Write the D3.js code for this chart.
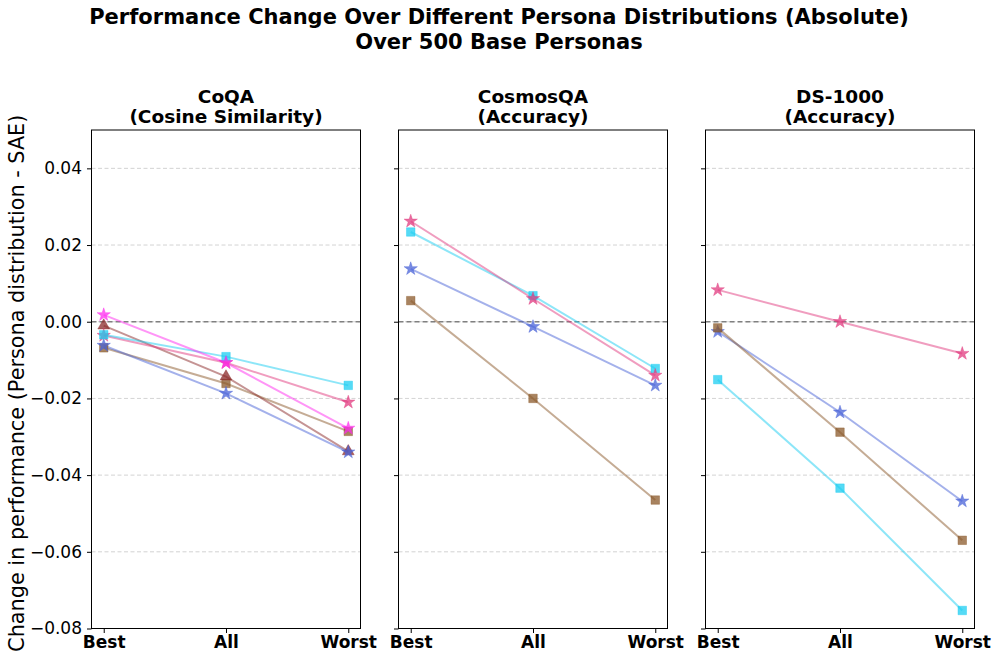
<!DOCTYPE html>
<html>
<head>
<meta charset="utf-8">
<script src="https://cdn.jsdelivr.net/npm/d3@7"></script>
<style>
  body { margin: 0; background: #fff; }
  text { font-family: "DejaVu Sans", sans-serif; }
</style>
</head>
<body>
<svg id="chart" width="997" height="661"></svg>
<script>
// categories and tick labels
const categories = ['Best', 'All', 'Worst']
const yTicks = [-0.08, -0.06, -0.04, -0.02, 0.00, 0.02, 0.04]

// panels
const panelNames = ['CoQA', 'CosmosQA', 'DS-1000']
const panelMetrics = ['(Cosine Similarity)', '(Accuracy)', '(Accuracy)']

// series values per panel [Best, All, Worst]
const coqaSeries = [
  { key: 'brown', shape: 'square', values: [-0.0068, -0.0161, -0.0286] },
  { key: 'darkred', shape: 'triangle', values: [-0.0010, -0.0143, -0.0338] },
  { key: 'blue', shape: 'star', values: [-0.0062, -0.0187, -0.0340] },
  { key: 'pink', shape: 'star', values: [-0.0036, -0.0107, -0.0210] },
  { key: 'cyan', shape: 'square', values: [-0.0034, -0.0091, -0.0166] },
  { key: 'magenta', shape: 'star', values: [0.0018, -0.0107, -0.0278] }
]
const cosmosSeries = [
  { key: 'brown', shape: 'square', values: [0.0055, -0.0200, -0.0465] },
  { key: 'blue', shape: 'star', values: [0.0138, -0.0013, -0.0166] },
  { key: 'cyan', shape: 'square', values: [0.0234, 0.0068, -0.0122] },
  { key: 'pink', shape: 'star', values: [0.0262, 0.0060, -0.0140] }
]
const dsSeries = [
  { key: 'cyan', shape: 'square', values: [-0.0151, -0.0434, -0.0753] },
  { key: 'blue', shape: 'star', values: [-0.0026, -0.0236, -0.0468] },
  { key: 'brown', shape: 'square', values: [-0.0016, -0.0288, -0.0570] },
  { key: 'pink', shape: 'star', values: [0.0083, 0.0000, -0.0083] }
]
const panelSeries = [coqaSeries, cosmosSeries, dsSeries]

const colors = {
  brown: '#8b5a2b',
  darkred: '#8b2a2a',
  blue: '#4a63d8',
  pink: '#e23c80',
  cyan: '#1ccdf2',
  magenta: '#ff2cf0'
}

const width = 997, height = 661
const svg = d3.select('#chart')

svg.append('rect').attr('width', width).attr('height', height).attr('fill', '#fff')

// main title
svg.append('text')
  .attr('x', 499).attr('y', 24)
  .attr('text-anchor', 'middle')
  .attr('font-size', 21).attr('font-weight', 'bold')
  .text('Performance Change Over Different Persona Distributions (Absolute)')
svg.append('text')
  .attr('x', 499).attr('y', 49)
  .attr('text-anchor', 'middle')
  .attr('font-size', 21).attr('font-weight', 'bold')
  .text('Over 500 Base Personas')

// layout
const panelLefts = [91.5, 398.5, 705.5]
const panelWidth = 269
const plotTop = 130, plotBottom = 628.5

const y = d3.scaleLinear().domain([-0.08, 0.05]).range([plotBottom, plotTop])

// y label
svg.append('text')
  .attr('transform', `translate(24,${(plotTop + plotBottom) / 2 + 4}) rotate(-90)`)
  .attr('text-anchor', 'middle')
  .attr('font-size', 20.8)
  .text('Change in performance (Persona distribution - SAE)')

const symbolFor = shape => {
  if (shape === 'square') return d3.symbol().type(d3.symbolSquare).size(72)()
  if (shape === 'triangle') return d3.symbol().type(d3.symbolTriangle).size(60)()
  return d3.symbol().type(d3.symbolStar).size(55)()
}

panelSeries.forEach((series, i) => {
  const x0 = panelLefts[i]
  const g = svg.append('g').attr('transform', `translate(${x0},0)`)

  const x = d3.scaleLinear().domain([-0.1, 2.1]).range([0, panelWidth])

  // grid
  g.selectAll('.grid')
    .data(yTicks)
    .join('line')
    .attr('x1', 0).attr('x2', panelWidth)
    .attr('y1', d => y(d)).attr('y2', d => y(d))
    .attr('stroke', '#c8c8c8')
    .attr('stroke-width', 0.8)
    .attr('stroke-dasharray', '4,2.5')

  // zero line
  g.append('line')
    .attr('x1', 0).attr('x2', panelWidth)
    .attr('y1', y(0)).attr('y2', y(0))
    .attr('stroke', '#808080')
    .attr('stroke-width', 1.3)
    .attr('stroke-dasharray', '5,3')

  // lines
  const line = d3.line()
    .x((d, j) => x(j))
    .y(d => y(d))

  series.forEach(s => {
    g.append('path')
      .datum(s.values)
      .attr('fill', 'none')
      .attr('stroke', colors[s.key])
      .attr('stroke-opacity', 0.5)
      .attr('stroke-width', 2)
      .attr('d', line)
  })

  series.forEach(s => {
    g.selectAll(null)
      .data(s.values)
      .join('path')
      .attr('transform', (d, j) => `translate(${x(j)},${y(d)})`)
      .attr('d', symbolFor(s.shape))
      .attr('fill', colors[s.key])
      .attr('fill-opacity', 0.75)
      .attr('stroke', colors[s.key])
      .attr('stroke-opacity', 0.4)
      .attr('stroke-width', 1)
  })

  // axes
  const yAxis = d3.axisLeft(y).tickValues(yTicks).tickSize(4.5).tickPadding(5)
    .tickFormat(d => d3.format('.2f')(d).replace('-', '\u2212'))
  const ya = g.append('g').call(yAxis)
  ya.select('.domain').remove()
  ya.selectAll('text').attr('font-size', 17).attr('font-family', '"DejaVu Sans", sans-serif').attr('fill', '#000')
  if (i > 0) ya.selectAll('text').remove()

  const xAxis = d3.axisBottom(x).tickValues([0, 1, 2]).tickSize(4.5).tickPadding(3)
    .tickFormat(d => categories[d])
  const xa = g.append('g').attr('transform', `translate(0,${plotBottom})`).call(xAxis)
  xa.select('.domain').remove()
  xa.selectAll('text').attr('font-size', 17).attr('font-weight', 'bold')
    .attr('font-family', '"DejaVu Sans", sans-serif').attr('fill', '#000')

  // frame
  g.append('rect')
    .attr('x', 0).attr('y', plotTop)
    .attr('width', panelWidth).attr('height', plotBottom - plotTop)
    .attr('fill', 'none').attr('stroke', '#000').attr('stroke-width', 1)

  // panel title
  g.append('text')
    .attr('x', panelWidth / 2).attr('y', 103)
    .attr('text-anchor', 'middle')
    .attr('font-size', 18.5).attr('font-weight', 'bold')
    .text(panelNames[i])
  g.append('text')
    .attr('x', panelWidth / 2).attr('y', 123)
    .attr('text-anchor', 'middle')
    .attr('font-size', 18.5).attr('font-weight', 'bold')
    .text(panelMetrics[i])
})
</script>
</body>
</html>
